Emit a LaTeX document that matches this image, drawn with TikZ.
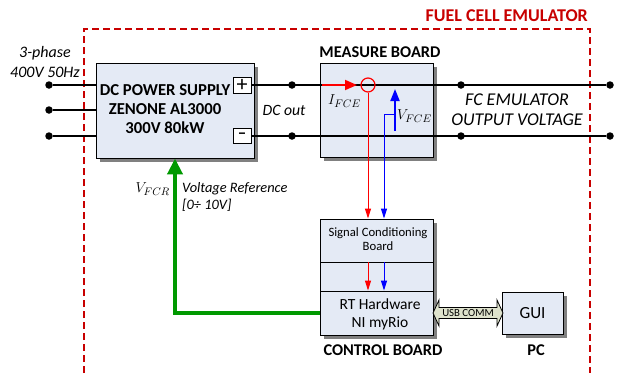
\documentclass[tikz,border=0pt]{standalone}
\usepackage{fontspec}
\setmainfont{Carlito}
\usetikzlibrary{shadows,arrows.meta}
\definecolor{boxfill}{RGB}{228,234,245}
\definecolor{darkred}{RGB}{200,0,0}
\definecolor{sigred}{RGB}{255,0,0}
\definecolor{sigblue}{RGB}{0,0,255}
\definecolor{refgreen}{RGB}{0,153,0}
\definecolor{usbfill}{RGB}{222,226,204}
\begin{document}
\begin{tikzpicture}[x=1pt,y=-1pt,
  blockbox/.style={draw=black, line width=0.9pt, fill=boxfill, inner sep=0pt,
     drop shadow={shadow xshift=4pt, shadow yshift=-4pt, fill=black!50, opacity=1}},
  plainbox/.style={draw=black, line width=0.9pt, inner sep=0pt, minimum width=113pt},
  signbox/.style={draw=black, line width=0.9pt, fill=white, inner sep=0pt, minimum width=18pt},
  wire/.style={line width=1.8pt, black},
  dot/.style={circle, fill=black, inner sep=0pt, minimum size=7.5pt},
  bigbold/.style={font=\fontsize{16.4}{19}\selectfont\bfseries, inner sep=0pt},
  bigit/.style={font=\fontsize{16}{20}\selectfont\itshape, inner sep=0pt, align=center},
  bigreg/.style={font=\fontsize{15.5}{18}\selectfont, inner sep=0pt, align=center},
  mathlab/.style={font=\fontsize{15.5}{15.5}\selectfont, inner sep=0pt},
  thinsig/.style={line width=1pt, -{Triangle[width=6pt,length=10pt]}},
]
\useasboundingbox (0,0) rectangle (617,373);

% emulator frame
\draw[darkred, line width=1.2pt, dash pattern=on 7pt off 4pt] (84,373) -- (84,29) -- (590,29) -- (590,373);
\node[font=\fontsize{18}{18}\selectfont\bfseries, inner sep=0pt, text=darkred, anchor=east] (title) at (588,16) {FUEL CELL EMULATOR};

% DC power supply
\node[blockbox, minimum width=158pt, minimum height=95pt] (dcps) at (175,110.5) {};
\node[bigbold, align=center, font=\fontsize{16.7}{19}\selectfont\bfseries] (dctext) at (165,109) {DC POWER SUPPLY\\ZENONE AL3000\\300V 80kW};
\node[signbox, minimum height=16pt, font=\fontsize{22}{16}\selectfont] (plus) at (242,85) {+};
\node[signbox, minimum height=15pt, font=\fontsize{17}{15}\selectfont\bfseries] (minus) at (242,136) {–};

% measure board
\node[blockbox, minimum width=113pt, minimum height=94pt] (meas) at (376.5,110) {};
\node[bigbold] (meastitle) at (380,52) {MEASURE BOARD};

% control board
\node[blockbox, minimum width=113pt, minimum height=116pt] (ctrl) at (376.5,277) {};
\node[plainbox, minimum height=43pt] (sig) at (376.5,240.5) {};
\node[plainbox, minimum height=29pt] (mid) at (376.5,276.5) {};
\node[plainbox, minimum height=44pt] (rt) at (376.5,313) {};
\node[font=\fontsize{12.7}{14.5}\selectfont, align=center, inner sep=0pt] (sigtext) at (378,239) {Signal Conditioning\\Board};
\node[bigreg] (rttext) at (380,314) {RT Hardware\\NI myRio};
\node[bigbold] (ctrltitle) at (383,350) {CONTROL BOARD};

% GUI
\node[blockbox, minimum width=61pt, minimum height=42pt, font=\fontsize{17}{17}\selectfont] (gui) at (532.5,313) {GUI};
\node[bigbold] (pctitle) at (536,350) {PC};

% USB double arrow
\draw[black, line width=0.8pt, fill=usbfill] (433,313) -- (439,300) -- (439,307.5) -- (497,307.5) -- (497,300) -- (503,313) -- (497,326) -- (497,318.5) -- (439,318.5) -- (439,326) -- cycle;
\node[font=\fontsize{10.8}{11}\selectfont, inner sep=0pt] (usb) at (468,313) {USB COMM};

% input wires
\node[dot] (in1) at (49,85) {};
\node[dot] (in2) at (49,110) {};
\node[dot] (in3) at (49,136) {};
\draw[wire] (in1) -- (in1 -| dcps.west);
\draw[wire] (in2) -- (in2 -| dcps.west);
\draw[wire] (in3) -- (in3 -| dcps.west);
\node[bigit] (phase) at (45,62) {3-phase\\400V 50Hz};

% output wires
\node[dot] (o1a) at (292,85) {};
\node[dot] (o1b) at (461,85) {};
\node[dot] (o1c) at (610,85) {};
\node[dot] (o2a) at (292,136) {};
\node[dot] (o2b) at (461,136) {};
\node[dot] (o2c) at (610,136) {};
\draw[wire] (plus.east) -- (o1c);
\draw[wire] (minus.east) -- (o2c);
\node[bigit, font=\fontsize{15.7}{19}\selectfont\itshape] (dcout) at (284,110) {DC out};
\node[bigit, font=\fontsize{18}{20}\selectfont\itshape] (fcout) at (517,110) {FC EMULATOR\\OUTPUT VOLTAGE};

% current measurement
\coordinate (ia) at (322,85);
\coordinate (ib) at (357,85);
\draw[sigred, line width=1.8pt, -{Triangle[width=10pt,length=12pt]}] (ia) -- (ib);
\node[circle, draw=sigred, line width=1.2pt, minimum size=14pt, inner sep=0pt] (ct) at (368,85) {};
\node[mathlab, anchor=west] (ilab) at (328,101) {$I_{FCE}$};
\draw[sigred, thinsig] (ct.south) -- (ct.south |- sig.north);
\draw[sigred, thinsig] (ct.south |- sig.south) -- (ct.south |- rt.north);

% voltage measurement
\coordinate (vb) at (395,131);
\coordinate (vt) at (395,89);
\coordinate (vk) at (395,114);
\coordinate (vx) at (384,114);
\draw[sigblue, line width=1.8pt, -{Triangle[width=9pt,length=12pt]}] (vb) -- (vt);
\draw[sigblue, thinsig] (vk) -- (vx) -- (vx |- sig.north);
\draw[sigblue, thinsig] (vx |- sig.south) -- (vx |- rt.north);
\node[mathlab, anchor=west] (vlab) at (397,116) {$V_{FCE}$};

% voltage reference
\draw[refgreen, line width=4pt, -{Triangle[width=15pt,length=16pt]}] (rt.west) -| (dcps.south);
\node[mathlab, anchor=east] (vrlab) at (170,189) {$V_{FCR}$};
\node[font=\fontsize{14.4}{17}\selectfont\itshape, align=left, anchor=north west, inner sep=0pt] (vref) at (182,182) {Voltage Reference\\{[}0÷ 10V{]}};
\end{tikzpicture}
\end{document}
